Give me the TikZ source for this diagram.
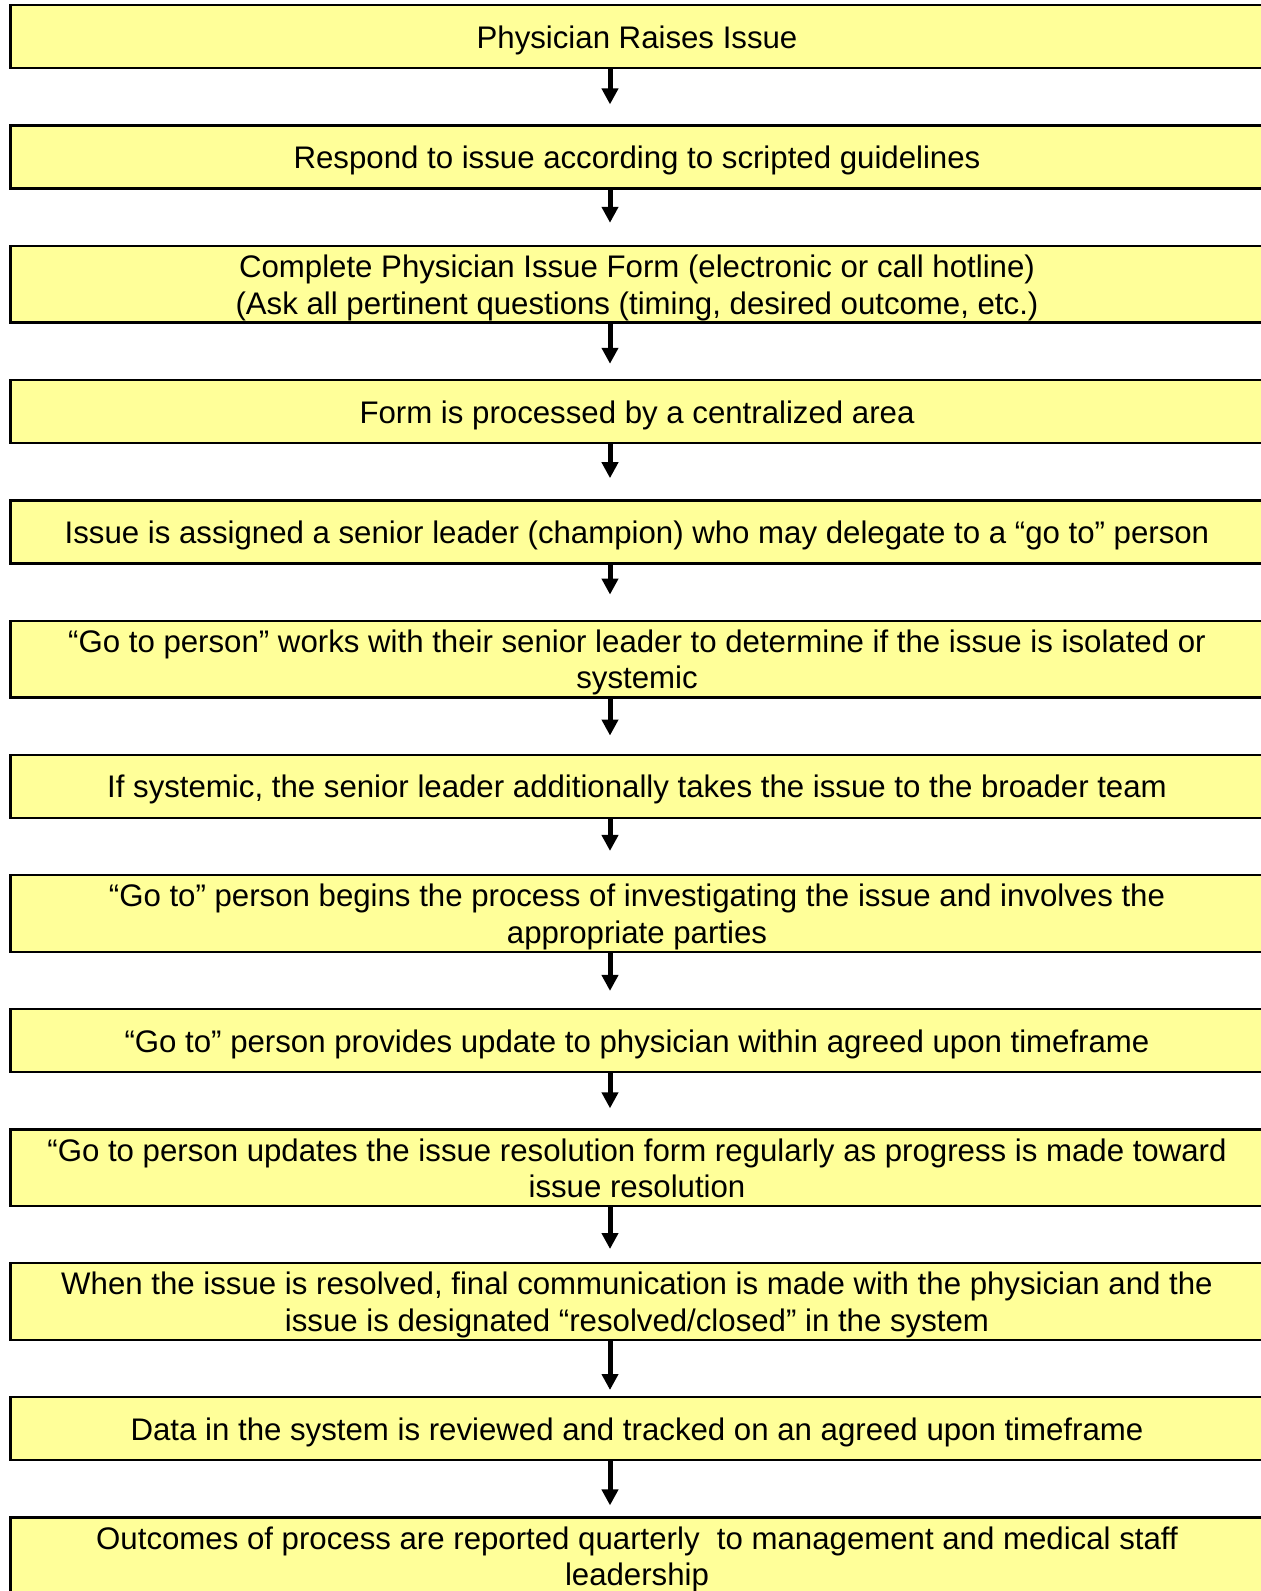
\documentclass[tikz,border=0pt]{standalone}
\usepackage{fontspec}
\setmainfont{Liberation Sans}
\usepackage{tikz}
\usetikzlibrary{arrows.meta, positioning}
\definecolor{boxyellow}{HTML}{FFFF99}
\newcommand{\linestrut}{\rule[-3.1pt]{0pt}{17.9pt}}

\begin{document}
\begin{tikzpicture}[
    x=0.5pt, y=-0.5pt,
    node distance=27.5pt,
    stepbox/.style={
        draw,
        line width=1.2pt,
        fill=boxyellow,
        minimum width=626.5pt,
        minimum height=31.5pt,
        text width=620pt,
        inner xsep=3pt,
        inner ysep=1pt,
        align=flush center,
        font=\fontsize{15.6}{18.25}\selectfont,
        execute at begin node=\linestrut,
        execute at end node=\linestrut
    },
    flow/.style={
        -{Triangle[width=8pt, length=8pt]},
        line width=2.5pt
    }
]
\useasboundingbox (0,0) rectangle (1261,1591);
\clip (0,0) rectangle (1261,1591);

% Steps
\node[stepbox, anchor=north] (s1) at (637,4) {Physician Raises Issue};
\node[stepbox, below=of s1] (s2) {Respond to issue according to scripted guidelines};
\node[stepbox, below=of s2] (s3) {Complete Physician Issue Form (electronic or call hotline)\\(Ask all pertinent questions (timing, desired outcome, etc.)};
\node[stepbox, below=of s3] (s4) {Form is processed by a centralized area};
\node[stepbox, below=of s4] (s5) {Issue is assigned a senior leader (champion) who may delegate to a “go to” person};
\node[stepbox, below=of s5] (s6) {“Go to person” works with their senior leader to determine if the issue is isolated or\\systemic};
\node[stepbox, below=of s6] (s7) {If systemic, the senior leader additionally takes the issue to the broader team};
\node[stepbox, below=of s7] (s8) {“Go to” person begins the process of investigating the issue and involves the\\appropriate parties};
\node[stepbox, below=of s8] (s9) {“Go to” person provides update to physician within agreed upon timeframe};
\node[stepbox, below=of s9] (s10) {“Go to person updates the issue resolution form regularly as progress is made toward\\issue resolution};
\node[stepbox, below=of s10] (s11) {When the issue is resolved, final communication is made with the physician and the\\issue is designated “resolved/closed” in the system};
\node[stepbox, below=of s11] (s12) {Data in the system is reviewed and tracked on an agreed upon timeframe};
\node[stepbox, below=of s12] (s13) {Outcomes of process are reported quarterly~ to management and medical staff\\leadership};

% Arrows
\coordinate (ax) at (610,0);
\foreach \a/\b/\gap in {s1/s2/10pt, s2/s3/11pt, s3/s4/7.5pt, s4/s5/10.5pt,
    s5/s6/12.5pt, s6/s7/9pt, s7/s8/11.5pt, s8/s9/8.5pt, s9/s10/10pt,
    s10/s11/6.5pt, s11/s12/3pt, s12/s13/5.5pt}
    \draw[flow, shorten >=\gap] (\a.south -| ax) -- (\b.north -| ax);

\end{tikzpicture}
\end{document}
